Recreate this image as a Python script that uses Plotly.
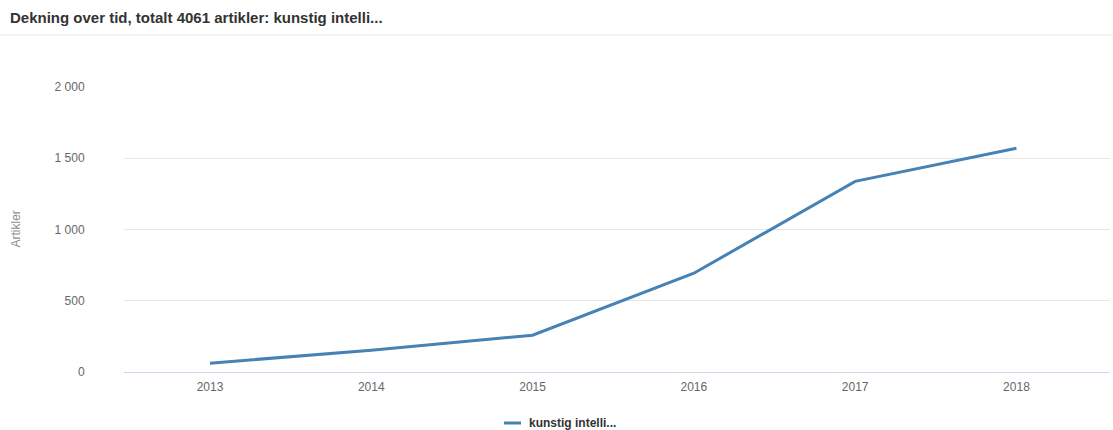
import plotly.graph_objects as go

years = ["2013", "2014", "2015", "2016", "2017", "2018"]
articles = [62, 153, 258, 693, 1338, 1570]
series_name = "kunstig intelli..."
title_text = "Dekning over tid, totalt 4061 artikler: kunstig intelli..."
y_title = "Artikler"

W, H = 1113, 430
ml, mr, mt, mb = 124, 3, 87, 58
pw = W - ml - mr
ph = H - mt - mb
FONT = "Liberation Sans, Arial, Helvetica, sans-serif"
LINE_COLOR = "#4682b4"

fig = go.Figure()
fig.add_trace(go.Scatter(
    x=years, y=articles, mode="lines", name=series_name,
    line=dict(color=LINE_COLOR, width=3), showlegend=False,
))

# legend drawn as a short line + bold label, centred under the chart
leg_y = (H - mb - 423) / ph
leg_x0 = (504 - ml) / pw
leg_x1 = (521 - ml) / pw
leg_tx = (527 - ml) / pw

fig.update_layout(
    width=W, height=H,
    margin=dict(l=ml, r=mr, t=mt, b=mb),
    paper_bgcolor="white", plot_bgcolor="white",
    font=dict(family=FONT, color="#666666", size=12),
    separators=", ",
    title=dict(text="<b>" + title_text + "</b>", xref="container", yref="container",
               x=10 / W, xanchor="left", y=1 - 18 / H, yanchor="middle",
               font=dict(size=15, color="#333333", family=FONT)),
    xaxis=dict(type="category", range=[-0.533, 5.58], showgrid=False, showline=False,
               zeroline=False, ticks="outside", ticklen=4, tickcolor="rgba(0,0,0,0)",
               tickfont=dict(size=12, color="#666666")),
    yaxis=dict(range=[0, 2000], dtick=500, tickformat=",d", showgrid=True,
               gridcolor="#e6e6e6", gridwidth=1, zeroline=True, zerolinecolor="#ccd6eb",
               zerolinewidth=1, showline=False, ticks="outside", ticklen=36,
               tickcolor="rgba(0,0,0,0)", tickfont=dict(size=12, color="#666666")),
    annotations=[
        dict(text=y_title, xref="paper", yref="paper", x=-(ml - 15) / pw,
             y=0.5, textangle=-90, showarrow=False, xanchor="center", yanchor="middle",
             font=dict(size=12, color="#8f8f8f")),
        dict(text="<b>" + series_name + "</b>", xref="paper", yref="paper", x=leg_tx,
             y=leg_y, showarrow=False, xanchor="left", yanchor="middle",
             font=dict(size=12, color="#333333")),
    ],
    shapes=[
        dict(type="line", xref="paper", yref="paper",
             x0=-ml / pw, x1=1 + mr / pw,
             y0=(H - mb - 35) / ph, y1=(H - mb - 35) / ph,
             line=dict(color="#e6e6e6", width=1)),
        dict(type="line", xref="paper", yref="paper",
             x0=leg_x0, x1=leg_x1, y0=leg_y, y1=leg_y,
             line=dict(color=LINE_COLOR, width=3)),
    ],
)

fig.write_html("out.html")
